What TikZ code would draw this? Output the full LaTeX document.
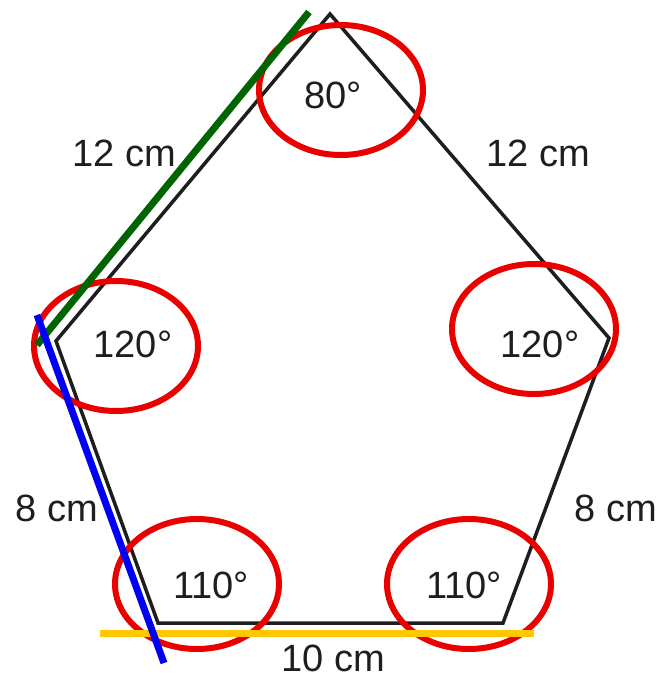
\documentclass[tikz,border=0pt]{standalone}
\usepackage{fontspec}
\setmainfont{Liberation Sans}
\usetikzlibrary{shapes.geometric}
\definecolor{ringred}{RGB}{235,0,0}
\definecolor{dgreen}{RGB}{0,100,0}
\definecolor{pblue}{RGB}{0,0,245}
\definecolor{pyellow}{RGB}{255,200,0}
\definecolor{ink}{RGB}{30,30,30}
\tikzset{
  lbl/.style={font=\fontsize{38}{40}\selectfont, text=ink, inner sep=0pt},
  ring/.style={draw=ringred, line width=6pt, ellipse, minimum width=164pt, minimum height=130pt, inner sep=0pt},
  marker/.style={line width=7pt},
}
\begin{document}
\begin{tikzpicture}[x=1pt,y=-1pt]
\useasboundingbox (0,0) rectangle (659,681);
\fill[white] (0,0) rectangle (659,681);
% vertices
\coordinate (T) at (330,14);
\coordinate (L) at (56,341);
\coordinate (BL) at (158,623);
\coordinate (BR) at (503,623);
\coordinate (R) at (609,338);
\draw[ink, line width=3.5pt, line join=miter] (T) -- (R) -- (BR) -- (BL) -- (L) -- cycle;
% angle labels
\node[lbl] (aT) at (333,95) {80°};
\node[lbl] (aL) at (133,344) {120°};
\node[lbl] (aR) at (540,344) {120°};
\node[lbl] (aBL) at (211,585) {110°};
\node[lbl] (aBR) at (464,585) {110°};
% side labels
\node[lbl] (s1) at (124,153) {12 cm};
\node[lbl] (s2) at (538,153) {12 cm};
\node[lbl] (s3) at (57,508) {8 cm};
\node[lbl] (s4) at (616,508) {8 cm};
\node[lbl] (s5) at (333,658) {10 cm};
% red rings
\node[ring] (rT) at (341,90) {};
\node[ring] (rL) at (116,346) {};
\node[ring] (rR) at (534,329) {};
\node[ring] (rBL) at (197,584) {};
\node[ring] (rBR) at (469,584) {};
% coloured lines
\coordinate (g1) at (309,12);
\coordinate (g2) at (37,345);
\coordinate (y1) at (100,633);
\coordinate (y2) at (534,633);
\coordinate (b1) at (37,315);
\coordinate (b2) at (164,663);
\draw[marker, dgreen] (g1) -- (g2);
\draw[marker, pyellow] (y1) -- (y2);
\draw[marker, pblue] (b1) -- (b2);
\end{tikzpicture}
\end{document}
